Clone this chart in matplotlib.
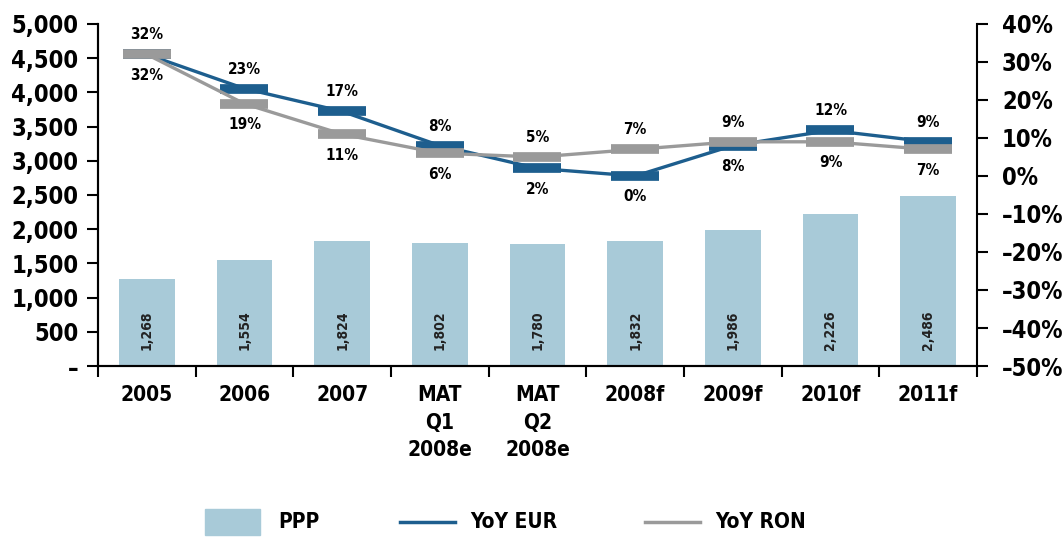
import matplotlib.pyplot as plt
from matplotlib import font_manager
import numpy as np

# data
categories = ['2005', '2006', '2007', 'MAT\nQ1\n2008e', 'MAT\nQ2\n2008e',
              '2008f', '2009f', '2010f', '2011f']
ppp = [1268, 1554, 1824, 1802, 1780, 1832, 1986, 2226, 2486]
yoy_eur = [32, 23, 17, 8, 2, 0, 8, 12, 9]
yoy_ron = [32, 19, 11, 6, 5, 7, 9, 9, 7]

bar_col = '#a8cad8'
eur_col = '#1d5e8e'
ron_col = '#9a9a9a'

names = sorted({f.name for f in font_manager.fontManager.ttflist})
print([n for n in names if 'Narrow' in n or 'Condensed' in n])
fam = ['DejaVu Sans Condensed', 'DejaVu Sans']
for n in ('Liberation Sans Narrow', 'DejaVu Sans Condensed'):
    if n in names:
        fam = [n, 'DejaVu Sans']
        break

plt.rcParams['font.family'] = fam
plt.rcParams['font.weight'] = 'bold'
plt.rcParams['font.stretch'] = 'condensed'

fig = plt.figure(figsize=(10.64, 5.38), dpi=100)
ax = fig.add_axes([0.0921, 0.3197, 0.8261, 0.6357])
ax2 = ax.twinx()

x = np.arange(len(categories))
ax.bar(x, ppp, width=0.57, color=bar_col, zorder=1)
for xi, v in zip(x, ppp):
    ax.text(xi, 520, '{:,}'.format(v), rotation=90, ha='center', va='center',
            fontsize=10, color='#222222')

ax.set_xlim(-0.5, len(categories) - 0.5)
ax.set_ylim(0, 5000)
ax.set_yticks(np.arange(0, 5001, 500))
ax.set_yticklabels(['–'] + ['{:,}'.format(v) for v in range(500, 5001, 500)])
ax.set_xticks(np.arange(-0.5, len(categories), 1))
ax.set_xticklabels([])
ax.set_xticks(x, minor=True)
ax.set_xticklabels(categories, minor=True, fontsize=15, linespacing=1.45, va='top')
ax.tick_params(axis='x', which='major', length=8, width=1.5, direction='out')
ax.tick_params(axis='x', which='minor', length=0, pad=14)
ax.tick_params(axis='y', length=8, width=1.5, labelsize=17, pad=6)

# lines on the right axis
ax2.plot(x, yoy_eur, color=eur_col, lw=2.4, marker='_', ms=35, mew=7, zorder=3)
ax2.plot(x, yoy_ron, color=ron_col, lw=2.4, marker='_', ms=35, mew=7, zorder=4)
ax2.set_ylim(-50, 40)
ax2.set_yticks(np.arange(-50, 41, 10))
ax2.set_yticklabels(['{}%'.format(v).replace('-', '–') for v in range(-50, 41, 10)])
ax2.tick_params(axis='y', length=8, width=1.5, labelsize=17, pad=10)

for xi, e, r in zip(x, yoy_eur, yoy_ron):
    hi, lo = (e, r) if e >= r else (r, e)
    ax2.annotate('{}%'.format(hi), (xi, hi), xytext=(0, 14), textcoords='offset points',
                 ha='center', va='center', fontsize=11)
    ax2.annotate('{}%'.format(lo), (xi, lo), xytext=(0, -15), textcoords='offset points',
                 ha='center', va='center', fontsize=11)

for a in (ax, ax2):
    a.spines['top'].set_visible(False)
    for s in ('left', 'right', 'bottom'):
        a.spines[s].set_linewidth(1.5)
ax.spines['right'].set_visible(False)

# legend at the bottom
fig.patches.append(plt.Rectangle((205 / 1064, 1 - 535 / 538), 55 / 1064, 26 / 538,
                                 transform=fig.transFigure, color=bar_col))
fig.text(278 / 1064, 1 - 522 / 538, 'PPP', fontsize=15, va='center')
fig.add_artist(plt.Line2D([400 / 1064, 455 / 1064], [1 - 522 / 538] * 2,
                          transform=fig.transFigure, color=eur_col, lw=2.5))
fig.text(470 / 1064, 1 - 522 / 538, 'YoY EUR', fontsize=15, va='center')
fig.add_artist(plt.Line2D([645 / 1064, 700 / 1064], [1 - 522 / 538] * 2,
                          transform=fig.transFigure, color=ron_col, lw=2.5))
fig.text(715 / 1064, 1 - 522 / 538, 'YoY RON', fontsize=15, va='center')

fig.savefig('out.png', dpi=100)
